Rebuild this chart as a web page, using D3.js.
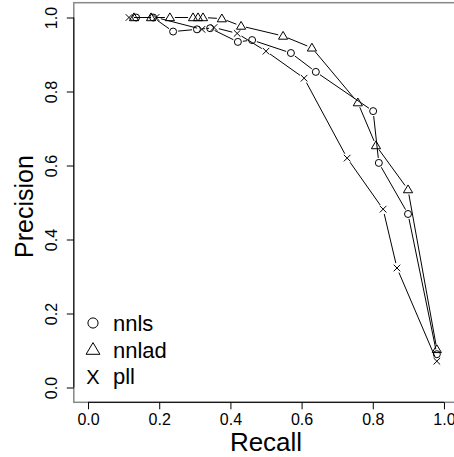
<!DOCTYPE html>
<html>
<head>
<meta charset="utf-8">
<script src="https://cdn.jsdelivr.net/npm/d3@7"></script>
<style>
  body { margin: 0; background: #fff; }
  text { font-family: "Liberation Sans", Arial, Helvetica, sans-serif; }
</style>
</head>
<body>
<div id="chart"></div>
<script>
// recall / precision values
var nnlsRecall    = [0.135, 0.183, 0.239, 0.306, 0.343, 0.421, 0.461, 0.570, 0.640, 0.801, 0.817, 0.899, 0.980];
var nnlsPrecision = [1.000, 1.000, 0.962, 0.968, 0.971, 0.934, 0.939, 0.904, 0.853, 0.747, 0.607, 0.469, 0.090];

var nnladRecall    = [0.129, 0.177, 0.230, 0.295, 0.309, 0.323, 0.376, 0.430, 0.548, 0.629, 0.758, 0.809, 0.899, 0.980];
var nnladPrecision = [1.000, 1.000, 1.000, 1.000, 1.000, 1.000, 0.997, 0.977, 0.950, 0.918, 0.770, 0.654, 0.535, 0.103];

var pllRecall    = [0.115, 0.191, 0.320, 0.354, 0.419, 0.500, 0.607, 0.728, 0.829, 0.868, 0.980];
var pllPrecision = [1.000, 1.000, 0.968, 0.973, 0.957, 0.909, 0.836, 0.620, 0.482, 0.323, 0.071];

var seriesNames = ["nnls", "nnlad", "pll"];
var tickValues = [0, 0.2, 0.4, 0.6, 0.8, 1.0];

var width = 454;
var height = 457;

var svg = d3.select("#chart").
  append("svg").
  attr("width", width).
  attr("height", height);

var xScale = d3.scaleLinear().domain([-0.04, 1.04]).range([73.8, 458.2]);
var yScale = d3.scaleLinear().domain([-0.04, 1.04]).range([402.3, 2.7]);

function zip(rs, ps) {
  return rs.map(function (r, i) { return { r: r, p: ps[i] }; });
}
var series = [
  { name: "nnls", shape: "circle", data: zip(nnlsRecall, nnlsPrecision) },
  { name: "nnlad", shape: "triangle", data: zip(nnladRecall, nnladPrecision) },
  { name: "pll", shape: "cross", data: zip(pllRecall, pllPrecision) }
];

// plot box (grey), axis lines are drawn black between the end ticks
svg.append("rect").
  attr("x", xScale(-0.04)).
  attr("y", yScale(1.04)).
  attr("width", xScale(1.04) - xScale(-0.04)).
  attr("height", yScale(-0.04) - yScale(1.04)).
  style("fill", "none").
  style("stroke", "#888").
  style("stroke-width", 1.5);

var xAxis = d3.axisBottom(xScale).tickValues(tickValues).tickSize(7).tickPadding(4.5).tickFormat(d3.format(".1f"));
var yAxis = d3.axisLeft(yScale).tickValues(tickValues).tickSize(7).tickFormat(d3.format(".1f"));

var gx = svg.append("g").
  attr("transform", "translate(0," + yScale(-0.04) + ")").
  call(xAxis);
gx.select(".domain").remove();
gx.append("line").attr("x1", xScale(0)).attr("x2", xScale(1)).attr("stroke", "#000");
gx.selectAll("text").style("font-size", "16px").attr("fill", "#000");

var gy = svg.append("g").
  attr("transform", "translate(" + xScale(-0.04) + ",0)").
  call(yAxis);
gy.select(".domain").remove();
gy.append("line").attr("y1", yScale(0)).attr("y2", yScale(1)).attr("stroke", "#000");
gy.selectAll("text").
  attr("x", null).attr("dy", null).
  attr("transform", "translate(-16.8,0) rotate(-90)").
  style("text-anchor", "middle").
  style("font-size", "16px").
  attr("fill", "#000");

// lines with gaps round the points (R type = "b")
var gap = 5;
series.forEach(function (s) {
  for (var i = 0; i < s.data.length - 1; i++) {
    var x1 = xScale(s.data[i].r), y1 = yScale(s.data[i].p);
    var x2 = xScale(s.data[i + 1].r), y2 = yScale(s.data[i + 1].p);
    var len = Math.sqrt((x2 - x1) * (x2 - x1) + (y2 - y1) * (y2 - y1));
    if (len <= 2 * gap) continue;
    var ux = (x2 - x1) / len, uy = (y2 - y1) / len;
    svg.append("line").
      attr("x1", x1 + ux * gap).attr("y1", y1 + uy * gap).
      attr("x2", x2 - ux * gap).attr("y2", y2 - uy * gap).
      style("stroke", "#000").
      style("stroke-width", 1);
  }
});

function symbolPath(shape, k) {
  if (shape === "triangle") {
    return "M0," + (-4.6 * k) + "L" + (4.6 * k) + "," + (3.2 * k) + "L" + (-4.6 * k) + "," + (3.2 * k) + "Z";
  }
  if (shape === "cross") {
    var a = 3.3 * k;
    return "M" + (-a) + "," + (-a) + "L" + a + "," + a + "M" + a + "," + (-a) + "L" + (-a) + "," + a;
  }
  var r = 3.5 * k;
  return "M" + r + ",0A" + r + "," + r + " 0 1,1 " + (-r) + ",0A" + r + "," + r + " 0 1,1 " + r + ",0Z";
}

series.forEach(function (s) {
  svg.selectAll(".pt-" + s.name).
    data(s.data).
    enter().
    append("path").
    attr("class", "pt-" + s.name).
    attr("transform", function (d) { return "translate(" + xScale(d.r) + "," + yScale(d.p) + ")"; }).
    attr("d", symbolPath(s.shape, 1)).
    style("fill", "none").
    style("stroke", "#000").
    style("stroke-width", 1);
});

// axis titles
svg.append("text").
  attr("x", (xScale(-0.04) + xScale(1.04)) / 2).
  attr("y", 451).
  style("text-anchor", "middle").
  style("font-size", "26px").
  text("Recall");

svg.append("text").
  attr("transform", "translate(33," + ((yScale(-0.04) + yScale(1.04)) / 2 + 4) + ") rotate(-90)").
  style("text-anchor", "middle").
  style("font-size", "25px").
  text("Precision");

// legend
var legend = svg.append("g").attr("id", "legend");
series.forEach(function (s, i) {
  var ly = 323 + i * 26.5;
  if (s.shape === "cross") {
    legend.append("text").
      attr("x", 93).attr("y", ly + 7.5).
      style("text-anchor", "middle").
      style("font-size", "20px").
      text("X");
  } else {
    legend.append("path").
      attr("transform", "translate(93," + ly + ")").
      attr("d", symbolPath(s.shape, s.shape === "triangle" ? 1.5 : 1.45)).
      style("fill", "none").
      style("stroke", "#000").
      style("stroke-width", 1);
  }
  legend.append("text").
    attr("x", 113).attr("y", ly + 8).
    style("font-size", "22px").
    text(seriesNames[i]);
});
</script>
</body>
</html>
